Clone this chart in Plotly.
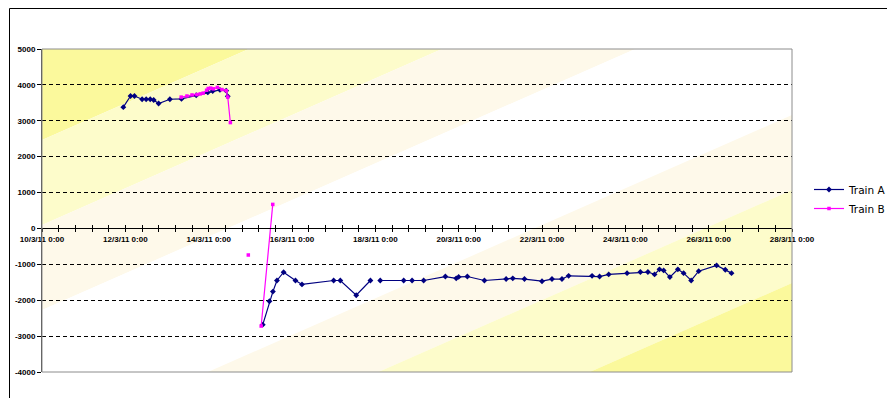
import plotly.graph_objects as go

# ---- data -------------------------------------------------------------
train_a_time = [
    "2011-03-11 22:50", "2011-03-12 03:00", "2011-03-12 05:15", "2011-03-12 09:40",
    "2011-03-12 12:00", "2011-03-12 14:20", "2011-03-12 16:20", "2011-03-12 19:10",
    "2011-03-13 01:40", "2011-03-13 08:20", "2011-03-13 16:50", "2011-03-13 23:30",
    "2011-03-14 02:20", "2011-03-14 06:30", "2011-03-14 10:05", "2011-03-14 11:00",
    None,
    "2011-03-15 07:10", "2011-03-15 11:00", "2011-03-15 13:00", "2011-03-15 15:20",
    "2011-03-15 19:10", "2011-03-16 02:00", "2011-03-16 05:45", "2011-03-17 00:00",
    "2011-03-17 03:50", "2011-03-17 13:00", "2011-03-17 21:10",
    None,
    "2011-03-18 02:50", "2011-03-18 16:20", "2011-03-18 21:10", "2011-03-19 03:50",
    "2011-03-19 16:20", "2011-03-19 22:35", "2011-03-20 00:00", "2011-03-20 05:00",
    "2011-03-20 14:50", "2011-03-21 03:20", "2011-03-21 07:10", "2011-03-21 13:55",
    "2011-03-22 00:00", "2011-03-22 05:45", "2011-03-22 11:30", "2011-03-22 15:20",
    "2011-03-23 04:50", "2011-03-23 09:10", "2011-03-23 14:25", "2011-03-24 01:00",
    "2011-03-24 08:40", "2011-03-24 13:00", "2011-03-24 16:50", "2011-03-24 19:40",
    "2011-03-24 22:05", "2011-03-25 01:40", "2011-03-25 06:15", "2011-03-25 09:35",
    "2011-03-25 13:55", "2011-03-25 18:15", "2011-03-26 04:35", "2011-03-26 09:35",
    "2011-03-26 13:10",
]
train_a_value = [
    3380, 3690, 3690, 3600,
    3600, 3600, 3580, 3480,
    3600, 3610, 3710, 3790,
    3830, 3860, 3840, 3680,
    None,
    -2680, -2030, -1760, -1450,
    -1220, -1450, -1560, -1450,
    -1450, -1860, -1450,
    None,
    -1450, -1450, -1450, -1450,
    -1340, -1390, -1350, -1340,
    -1450, -1410, -1390, -1410,
    -1470, -1410, -1410, -1320,
    -1320, -1340, -1280, -1245,
    -1215, -1215, -1280, -1140,
    -1170, -1355, -1140, -1245,
    -1450, -1190, -1030, -1150,
    -1245,
]

train_b_time = [
    "2011-03-13 08:10", "2011-03-13 11:30", "2011-03-13 14:25", "2011-03-13 17:15",
    "2011-03-13 19:10", "2011-03-13 20:50", "2011-03-13 22:50", "2011-03-13 23:45",
    "2011-03-14 01:10", "2011-03-14 02:40", "2011-03-14 05:00", "2011-03-14 07:40",
    "2011-03-14 10:05", "2011-03-14 11:00", "2011-03-14 12:30",
    None,
    "2011-03-14 22:50",
    None,
    "2011-03-15 06:15", "2011-03-15 12:55",
]
train_b_value = [
    3660, 3690, 3720, 3730,
    3750, 3770, 3850, 3900,
    3910, 3890, 3930, 3870,
    3840, 3660, 2950,
    None,
    -740,
    None,
    -2720, 670,
]

y_ticks = [5000, 4000, 3000, 2000, 1000, 0, -1000, -2000, -3000, -4000]
y_tick_labels = [str(v) for v in y_ticks]

x_start, x_end = "2011-03-10", "2011-03-28"
DAY_MS = 86400000

# ---- page geometry (pixels) --------------------------------------------
W, H = 887, 398
ML, MR, MT, MB = 42, 95, 49, 26
PW, PH = W - ML - MR, H - MT - MB

tick_font = dict(family="Liberation Sans, Arial, sans-serif", size=8, color="black", weight="bold")

fig = go.Figure()

fig.add_trace(go.Scatter(
    x=train_a_time, y=train_a_value, name="Train A", mode="lines+markers",
    line=dict(color="#000080", width=1.2),
    marker=dict(symbol="diamond", size=4.5, color="#000080"),
    connectgaps=False,
))
fig.add_trace(go.Scatter(
    x=train_b_time, y=train_b_value, name="Train B", mode="lines+markers",
    line=dict(color="#FF00FF", width=1.2),
    marker=dict(symbol="square", size=3.5, color="#FF00FF"),
    connectgaps=False,
))
# empty trace that carries the inner half of the crossing date ticks
fig.add_trace(go.Scatter(x=[], y=[], xaxis="x2", showlegend=False, hoverinfo="skip"))


# ---- diagonal gradient bands behind the plot -------------------------
def band_f(p):
    # distance measure along the gradient, expressed as the pixel row where
    # a band boundary meets the left edge of the plot
    xp, yp = p
    return (H - MB) - PH * yp + 0.44 * PW * xp


def clip(poly, lo, hi):
    def half(poly, g):
        out = []
        n = len(poly)
        for i in range(n):
            P, Q = poly[i], poly[(i + 1) % n]
            gp, gq = g(P), g(Q)
            if gp >= 0:
                out.append(P)
            if (gp >= 0) != (gq >= 0):
                t = gp / (gp - gq)
                out.append((P[0] + t * (Q[0] - P[0]), P[1] + t * (Q[1] - P[1])))
        return out
    poly = half(poly, lambda p: band_f(p) - lo)
    poly = half(poly, lambda p: hi - band_f(p))
    return poly


bands = [
    (0, 140, "#FBF99C"),
    (140, 225, "#FDFCCB"),
    (225, 310, "#FEF9EA"),
    (310, 445, "#FFFFFF"),
    (445, 520, "#FEF9EA"),
    (520, 613, "#FDFCCB"),
    (613, 900, "#FBF99C"),
]
rect = [(0, 0), (1, 0), (1, 1), (0, 1)]
shapes = []
for lo, hi, col in bands:
    poly = clip(rect, lo, hi)
    if len(poly) < 3:
        continue
    path = "M " + " L ".join(f"{x:.5f},{y:.5f}" for x, y in poly) + " Z"
    shapes.append(dict(type="path", path=path, xref="paper", yref="paper",
                       fillcolor=col, line=dict(width=0), layer="below"))

# plot-area frame
shapes.append(dict(type="rect", xref="paper", yref="paper", x0=0, x1=1, y0=0, y1=1,
                   line=dict(color="#8C8C8C", width=1), layer="above"))
# outer chart-area frame (left and top edges)
px_x = lambda px: (px - ML) / PW
px_y = lambda py: (H - MB - py) / PH
shapes.append(dict(type="line", xref="paper", yref="paper",
                   x0=px_x(9.5), x1=px_x(9.5), y0=px_y(8.5), y1=px_y(H + 2),
                   line=dict(color="black", width=1)))
shapes.append(dict(type="line", xref="paper", yref="paper",
                   x0=px_x(9.5), x1=px_x(W + 2), y0=px_y(8.5), y1=px_y(8.5),
                   line=dict(color="black", width=1)))

y_lo, y_hi = -4000, 5000
zero_pos = (0 - y_lo) / (y_hi - y_lo)

date_axis = dict(
    type="date", range=[x_start, x_end], domain=[0, 1],
    anchor="free", position=zero_pos,
    tick0=x_start, dtick=2 * DAY_MS,
    tickformat="%-d/%-m/%y %-H:%M", tickfont=tick_font,
    ticklen=3, tickcolor="black", tickwidth=1,
    showgrid=False, zeroline=False,
)

fig.update_layout(
    width=W, height=H,
    margin=dict(l=ML, r=MR, t=MT, b=MB, pad=0, autoexpand=False),
    paper_bgcolor="white", plot_bgcolor="white",
    shapes=shapes,
    xaxis=dict(**date_axis, ticks="outside", showline=True, linecolor="black", linewidth=1,
               minor=dict(tick0=x_start, dtick=0.4 * DAY_MS, ticks="outside",
                          ticklen=3, tickcolor="black", showgrid=False)),
    xaxis2=dict(**date_axis, overlaying="x", ticks="inside", showticklabels=False,
                showline=False,
                minor=dict(tick0=x_start, dtick=0.4 * DAY_MS, ticks="inside",
                           ticklen=3, tickcolor="black", showgrid=False)),
    yaxis=dict(
        range=[y_lo, y_hi], domain=[0, 1],
        tickvals=y_ticks, ticktext=y_tick_labels, tickfont=tick_font,
        ticks="outside", ticklen=4, tickcolor="black",
        showline=True, linecolor="#404040", linewidth=1,
        showgrid=True, gridcolor="black", gridwidth=1, griddash="4px,3px",
        zeroline=False,
    ),
    legend=dict(
        x=px_x(809), y=px_y(175), xanchor="left", yanchor="top",
        bgcolor="rgba(0,0,0,0)", itemwidth=30, tracegroupgap=0,
        font=dict(family="DejaVu Sans, Verdana, sans-serif", size=10.5, color="black"),
    ),
    showlegend=True,
)

fig.write_html("out.html")
